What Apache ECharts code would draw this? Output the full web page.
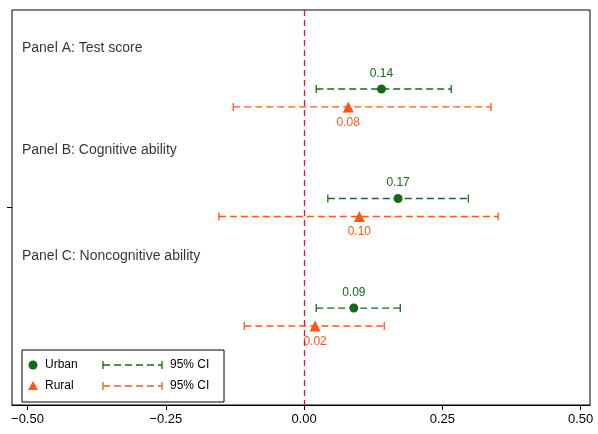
<!DOCTYPE html>
<html><head><meta charset="utf-8">
<script src="https://cdn.jsdelivr.net/npm/echarts@6/dist/echarts.min.js"></script>
<style>html,body{margin:0;padding:0;background:#fff}#c{width:598px;height:434px}</style>
</head><body><div id="c"></div>
<script>
const panels = ['Panel A: Test score','Panel B: Cognitive ability','Panel C: Noncognitive ability'];
const panelRows = [2.1, 7.8, 13.7];
const urbanEst = [0.14, 0.17, 0.09];
const urbanLo = [0.022, 0.043, 0.022];
const urbanHi = [0.266, 0.297, 0.174];
const urbanRows = [4.4, 10.5, 16.6];
const ruralEst = [0.08, 0.10, 0.02];
const ruralLo = [-0.128, -0.154, -0.108];
const ruralHi = [0.338, 0.351, 0.145];
const ruralRows = [5.4, 11.5, 17.6];
const xTicks = [-0.5, -0.25, 0, 0.25, 0.5];
const GREEN = '#156b15', ORANGE = '#ff5516';

const chart = echarts.init(document.getElementById('c'));
function ciSeries(lo, hi, rows, color) {
  return {
    type: 'custom',
    data: rows.map((r, i) => [lo[i], hi[i], r]),
    renderItem: (p, api) => {
      const a = api.coord([api.value(0), api.value(2)]);
      const b = api.coord([api.value(1), api.value(2)]);
      const st = {stroke: color, lineWidth: 1.3};
      return {type: 'group', children: [
        {type: 'line', shape: {x1: a[0], y1: a[1], x2: b[0], y2: b[1]}, style: Object.assign({lineDash: [7, 4]}, st)},
        {type: 'line', shape: {x1: a[0], y1: a[1]-4, x2: a[0], y2: a[1]+4}, style: st},
        {type: 'line', shape: {x1: b[0], y1: b[1]-4, x2: b[0], y2: b[1]+4}, style: st}
      ]};
    }, z: 2
  };
}
const fmt = v => (v < 0 ? '−' : '') + Math.abs(v).toFixed(2);
chart.setOption({
  animation: false,
  grid: {left: 12, right: 8, top: 10, bottom: 29, show: true, borderColor: '#000', borderWidth: 1},
  xAxis: {type: 'value', min: -0.528, max: 0.517, position: 'bottom',
    axisLine: {onZero: false, lineStyle: {color: '#000'}}, splitLine: {show: false},
    axisTick: {show: true, customValues: xTicks, length: 5, lineStyle: {color: '#000'}},
    axisLabel: {customValues: xTicks, formatter: fmt, color: '#000', fontSize: 13, fontFamily: 'Liberation Sans', margin: 8}},
  yAxis: {type: 'value', min: 0, max: 22, inverse: true, position: 'left',
    axisLine: {show: false, onZero: false}, splitLine: {show: false}, axisLabel: {show: false},
    axisTick: {show: true, customValues: [11], inside: false, length: 5, lineStyle: {color: '#000'}}},
  series: [
    ciSeries(urbanLo, urbanHi, urbanRows, GREEN),
    ciSeries(ruralLo, ruralHi, ruralRows, ORANGE),
    {type: 'scatter', symbol: 'circle', symbolSize: 9, itemStyle: {color: GREEN, opacity: 1}, z: 3,
      data: urbanEst.map((v, i) => [v, urbanRows[i]]),
      label: {show: true, position: 'top', distance: 5, color: GREEN, fontSize: 12, fontFamily: 'Liberation Sans', formatter: p => p.value[0].toFixed(2)},
      markLine: {silent: true, symbol: 'none', label: {show: false},
        lineStyle: {color: '#e8123c', type: [6, 4], width: 1.3, opacity: 1}, data: [{xAxis: 0}]}},
    {type: 'scatter', symbol: 'triangle', symbolSize: 11, itemStyle: {color: ORANGE, opacity: 1}, z: 3,
      data: ruralEst.map((v, i) => [v, ruralRows[i]]),
      label: {show: true, position: 'bottom', distance: 4, color: ORANGE, fontSize: 12, fontFamily: 'Liberation Sans', formatter: p => p.value[0].toFixed(2)}},
    {type: 'scatter', symbolSize: 0, data: panelRows.map((r, i) => [-0.51, r, panels[i]]),
      label: {show: true, position: 'right', distance: 0, color: '#000', fontSize: 14, fontFamily: 'Liberation Sans', formatter: p => p.value[2]}}
  ],
  graphic: [
    {type: 'rect', shape: {x: 22, y: 350, width: 202, height: 52}, style: {fill: '#fff', stroke: '#000', lineWidth: 1}, z: 10},
    {type: 'circle', shape: {cx: 33, cy: 365, r: 4.5}, style: {fill: GREEN}, z: 11},
    {type: 'text', x: 45, y: 365, style: {text: 'Urban', fill: '#000', font: '12px Liberation Sans', verticalAlign: 'middle'}, z: 11},
    {type: 'line', shape: {x1: 103, y1: 365, x2: 162, y2: 365}, style: {stroke: GREEN, lineWidth: 1.3, lineDash: [7, 4]}, z: 11},
    {type: 'line', shape: {x1: 103, y1: 361, x2: 103, y2: 369}, style: {stroke: GREEN, lineWidth: 1.3}, z: 11},
    {type: 'line', shape: {x1: 162, y1: 361, x2: 162, y2: 369}, style: {stroke: GREEN, lineWidth: 1.3}, z: 11},
    {type: 'text', x: 170, y: 365, style: {text: '95% CI', fill: '#000', font: '12px Liberation Sans', verticalAlign: 'middle'}, z: 11},
    {type: 'polygon', shape: {points: [[33, 381], [28, 390], [38, 390]]}, style: {fill: ORANGE}, z: 11},
    {type: 'text', x: 45, y: 386, style: {text: 'Rural', fill: '#000', font: '12px Liberation Sans', verticalAlign: 'middle'}, z: 11},
    {type: 'line', shape: {x1: 103, y1: 386, x2: 162, y2: 386}, style: {stroke: ORANGE, lineWidth: 1.3, lineDash: [7, 4]}, z: 11},
    {type: 'line', shape: {x1: 103, y1: 382, x2: 103, y2: 390}, style: {stroke: ORANGE, lineWidth: 1.3}, z: 11},
    {type: 'line', shape: {x1: 162, y1: 382, x2: 162, y2: 390}, style: {stroke: ORANGE, lineWidth: 1.3}, z: 11},
    {type: 'text', x: 170, y: 386, style: {text: '95% CI', fill: '#000', font: '12px Liberation Sans', verticalAlign: 'middle'}, z: 11}
  ]
});
</script></body></html>
